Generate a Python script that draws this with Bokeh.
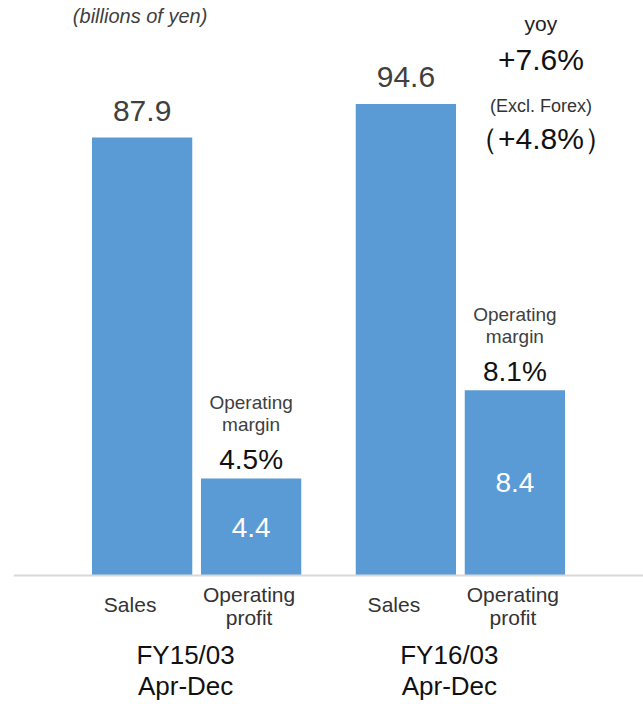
from bokeh.plotting import figure
from bokeh.models import ColumnDataSource, FactorRange, Range1d, Span
from bokeh.core.properties import value
from bokeh.embed import file_html
from bokeh.resources import INLINE

# ---- data ----
periods = ["FY15/03", "FY16/03"]
period_sub = "Apr-Dec"
sales = [87.9, 94.6]
op_profit = [4.4, 8.4]
op_margin = ["4.5%", "8.1%"]
yoy_label = "yoy"
yoy_value = "+7.6%"
forex_label = "(Excl. Forex)"
forex_value = "\uff08+4.8%\uff09"
unit_label = "(billions of yen)"
cat_sales = "Sales"
cat_profit = ["Operating", "profit"]
margin_label = ["Operating", "margin"]

FONT = value("Liberation Sans")
BAR = "#5B9BD5"

groups = [p + " " + period_sub for p in periods]
factors = []
for g in groups:
    factors += [(g, "Sales"), (g, "Operating profit")]

x_range = FactorRange(*factors, factor_padding=0.0, group_padding=0.42,
                      range_padding=0.68, range_padding_units="absolute")

k_sales = 438 / 87.9
k_profit = 97 / 4.4
p = figure(width=643, height=704, x_range=x_range,
           y_range=Range1d(-129 / k_sales, 575 / k_sales),
           output_backend="svg", toolbar_location=None,
           x_axis_location=None, y_axis_location=None,
           min_border_left=13, min_border_right=0, min_border_top=0, min_border_bottom=0)
p.extra_y_ranges = {"profit": Range1d(-129 / k_profit, 575 / k_profit)}
p.grid.visible = False
p.outline_line_color = None
p.background_fill_color = "white"
p.border_fill_color = "white"

p.add_layout(Span(location=0, dimension="width", line_color="#d9d9d9", line_width=2))

s_src = ColumnDataSource(dict(x=[(g, "Sales") for g in groups], top=sales,
                              lbl=["%.1f" % v for v in sales]))
o_src = ColumnDataSource(dict(x=[(g, "Operating profit") for g in groups], top=op_profit,
                              half=[v / 2 for v in op_profit],
                              lbl=["%.1f" % v for v in op_profit], margin=op_margin,
                              m1=[margin_label[0]] * 2, m2=[margin_label[1]] * 2))

p.vbar(x="x", top="top", bottom=0, width=0.92, source=s_src, fill_color=BAR, line_color=None)
p.vbar(x="x", top="top", bottom=0, width=0.92, source=o_src, fill_color=BAR, line_color=None,
       y_range_name="profit")

MID = "middle"
# value labels
p.text(x="x", y="top", text="lbl", source=s_src, text_font=FONT, text_font_size="30px",
       text_color="#404040", text_align="center", text_baseline=MID, y_offset=-27)
p.text(x="x", y="half", text="lbl", source=o_src, text_font=FONT, text_font_size="28px",
       text_color="white", text_align="center", text_baseline=MID, y_range_name="profit")
p.text(x="x", y="top", text="margin", source=o_src, text_font=FONT, text_font_size="28px",
       text_color="#111111", text_align="center", text_baseline=MID,
       y_offset=-19, y_range_name="profit")
p.text(x="x", y="top", text="m2", source=o_src, text_font=FONT, text_font_size="19px",
       text_color="#404040", text_align="center", text_baseline=MID,
       y_offset=-54, y_range_name="profit")
p.text(x="x", y="top", text="m1", source=o_src, text_font=FONT, text_font_size="19px",
       text_color="#404040", text_align="center", text_baseline=MID,
       y_offset=-76, y_range_name="profit")

# yoy annotation anchored at FY16 bars
anchor_x = [(groups[1], "Operating profit")]
anchor_y = [sales[1]]
for txt, size, dy, col in [(yoy_label, "21px", -81, "#222222"),
                           (yoy_value, "30px", -45, "#111111"),
                           (forex_label, "18px", 2, "#333333"),
                           (forex_value, "30px", 34, "#111111")]:
    p.text(x=anchor_x, y=anchor_y, text=[txt], text_font=FONT, text_font_size=size,
           text_color=col, text_align="center", text_baseline=MID,
           x_offset=26, y_offset=dy)

# unit label
p.text(x=[(groups[0], "Sales")], y=[sales[0]], text=[unit_label], text_font=FONT,
       text_font_size="20px", text_font_style="italic", text_color="#404040",
       text_align="center", text_baseline=MID, x_offset=-2, y_offset=-122)

# category labels
p.text(x=[(g, "Sales") for g in groups], y=[0, 0], text=[cat_sales] * 2, text_font=FONT,
       text_font_size="21px", text_color="#333333", text_align="center",
       text_baseline=MID, x_offset=-12, y_offset=29)
p.text(x=[(g, "Operating profit") for g in groups], y=[0, 0], text=[cat_profit[0]] * 2,
       text_font=FONT, text_font_size="21px", text_color="#333333", text_align="center",
       text_baseline=MID, x_offset=-2, y_offset=19)
p.text(x=[(g, "Operating profit") for g in groups], y=[0, 0], text=[cat_profit[1]] * 2,
       text_font=FONT, text_font_size="21px", text_color="#333333", text_align="center",
       text_baseline=MID, x_offset=-2, y_offset=42)
p.text(x=groups, y=[0, 0], text=periods, text_font=FONT, text_font_size="26px",
       text_color="#111111", text_align="center", text_baseline=MID, x_offset=-11, y_offset=79)
p.text(x=groups, y=[0, 0], text=[period_sub] * 2, text_font=FONT, text_font_size="26px",
       text_color="#111111", text_align="center", text_baseline=MID, x_offset=-11, y_offset=110)

open("out.html", "w").write(file_html(p, INLINE))
